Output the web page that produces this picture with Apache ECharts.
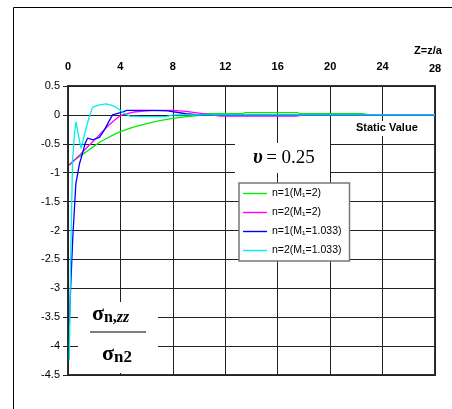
<!DOCTYPE html>
<html>
<head>
<meta charset="utf-8">
<script src="https://cdn.jsdelivr.net/npm/echarts@6/dist/echarts.min.js"></script>
<style>
  html, body { margin: 0; padding: 0; background: #fff; }
  #chart { width: 452px; height: 409px; }
</style>
</head>
<body>
<div id="chart"></div>
<script>
// 数据
const zTicks = [0, 4, 8, 12, 16, 20, 24, 28];
const seriesNames = ["n=1(M₁=2)", "n=2(M₁=2)", "n=1(M₁=1.033)", "n=2(M₁=1.033)"];

const greenZ = [0.1, 0.5, 1, 1.5, 2, 2.5, 3, 3.5, 4, 5, 6, 7, 8, 9, 10, 10.5, 13.3, 13.5, 17.5, 17.7, 22.5, 23, 28];
const greenV = [-0.86, -0.78, -0.7, -0.62, -0.54, -0.46, -0.4, -0.34, -0.29, -0.21, -0.15, -0.1, -0.06, -0.03, -0.01, 0.02, 0.02, 0.04, 0.04, 0.02, 0.02, 0, 0];

const magentaZ = [0.1, 0.5, 1, 1.5, 2, 2.5, 3, 3.5, 4, 5, 6, 7, 8, 9, 10, 11, 11.6, 17.4, 18, 28];
const magentaV = [-0.87, -0.78, -0.67, -0.55, -0.44, -0.32, -0.2, -0.1, -0.01, 0.05, 0.07, 0.08, 0.08, 0.06, 0.03, 0, -0.02, -0.02, 0, 0];

const blueZ = [0.1, 0.2, 0.37, 0.6, 0.88, 1.0, 1.3, 1.5, 1.9, 2.4, 2.8, 3.1, 3.4, 4, 4.5, 6.5, 7.6, 9, 10, 28];
const blueV = [-3.64, -3.0, -2.1, -1.19, -0.84, -0.75, -0.5, -0.4, -0.43, -0.39, -0.25, -0.12, 0, 0.04, 0.08, 0.08, 0.07, 0.02, 0, 0];

const cyanZ = [0.1, 0.2, 0.35, 0.5, 0.62, 0.75, 1.0, 1.3, 1.6, 1.87, 2.3, 2.9, 3.3, 3.7, 4.2, 4.7, 5.5, 7.5, 8, 28];
const cyanV = [-4.25, -2.5, -0.79, -0.3, -0.12, -0.3, -0.58, -0.3, -0.05, 0.13, 0.17, 0.19, 0.17, 0.13, 0.04, -0.02, -0.03, -0.03, 0, 0];

const colors = ["#00ee00", "#ff00ff", "#0000ff", "#00eeee"];

const zip = (xs, ys) => xs.map((x, i) => [x, ys[i]]);
const allData = [zip(greenZ, greenV), zip(magentaZ, magentaV), zip(blueZ, blueV), zip(cyanZ, cyanV)];

const chart = echarts.init(document.getElementById("chart"));
const sans = "Liberation Sans, Arial, sans-serif";
const serif = "Liberation Serif, Times New Roman, serif";

const option = {
  animation: false,
  grid: {
    left: 68,
    top: 86,
    width: 367,
    height: 289,
    show: true,
    borderColor: "#333",
    borderWidth: 2,
  },
  xAxis: {
    type: "value",
    position: "top",
    min: zTicks[0],
    max: zTicks[zTicks.length - 1],
    interval: 4,
    axisLine: { show: false },
    axisTick: { show: false },
    axisLabel: {
      color: "#000",
      fontFamily: sans,
      fontWeight: "bold",
      fontSize: 11,
      margin: 14,
      // 最后一个标签稍微往下
      formatter: (v) => (v === 28 ? "{low|28}" : String(v)),
      rich: {
        low: { fontFamily: sans, fontWeight: "bold", fontSize: 11, color: "#000", padding: [0, 0, -2, 0] },
      },
    },
    splitLine: { lineStyle: { color: "#222", width: 1 } },
  },
  yAxis: {
    type: "value",
    min: -4.5,
    max: 0.5,
    interval: 0.5,
    axisLine: { show: false },
    axisTick: { show: true, length: 5, lineStyle: { color: "#222" } },
    axisLabel: {
      color: "#000",
      fontFamily: sans,
      fontSize: 11,
      margin: 8,
    },
    splitLine: { lineStyle: { color: "#222", width: 1 } },
  },
  legend: {
    orient: "vertical",
    left: 239,
    top: 183,
    itemWidth: 24,
    itemHeight: 10,
    itemGap: 8,
    padding: [5, 8, 5, 4],
    backgroundColor: "#fff",
    borderColor: "#777",
    borderWidth: 1.5,
    textStyle: { fontFamily: sans, fontSize: 10.5, color: "#000" },
    data: seriesNames.map((n) => ({ name: n, icon: "path://M0,0 L24,0 L24,1.4 L0,1.4 Z" })),
  },
  graphic: [
    // outer chart frame
    { type: "polyline", shape: { points: [[13.5, 409], [13.5, 7.5], [452, 7.5]] }, style: { stroke: "#000", lineWidth: 1, fill: null }, z: 0 },
    // Z=z/a
    { type: "text", left: 414, top: 45, style: { text: "Z=z/a", font: "bold 11px " + sans, fill: "#000" }, z: 10 },
    // Static Value
    { type: "rect", shape: { x: 352, y: 121, width: 76, height: 15 }, style: { fill: "#fff" }, z: 9 },
    { type: "text", left: 356, top: 122, style: { text: "Static Value", font: "bold 11px " + sans, fill: "#000" }, z: 10 },
    // nu = 0.25
    { type: "rect", shape: { x: 235, y: 143, width: 95, height: 30 }, style: { fill: "#fff" }, z: 9 },
    {
      type: "text", left: 253, top: 148, z: 10,
      style: {
        text: "{a|υ} {b|= 0.25}",
        rich: {
          a: { font: "italic bold 20px " + serif, fill: "#000" },
          b: { font: "19px " + serif, fill: "#000" },
        },
      },
    },
    // sigma fraction
    { type: "rect", shape: { x: 78, y: 302, width: 80, height: 71 }, style: { fill: "#fff" }, z: 9 },
    {
      type: "text", left: 92, top: 303, z: 10,
      style: {
        text: "{s|σ}{n|n,}{z|zz}",
        rich: {
          s: { font: "bold 22px " + serif, fill: "#000" },
          n: { font: "bold 16px " + serif, fill: "#000", verticalAlign: "bottom", padding: [8, 0, 0, 0] },
          z: { font: "italic bold 16px " + serif, fill: "#000", verticalAlign: "bottom", padding: [8, 0, 0, 0] },
        },
      },
    },
    { type: "line", shape: { x1: 90, y1: 332, x2: 146, y2: 332 }, style: { stroke: "#555", lineWidth: 1.5 }, z: 10 },
    {
      type: "text", left: 102, top: 343, z: 10,
      style: {
        text: "{s|σ}{n|n2}",
        rich: {
          s: { font: "bold 22px " + serif, fill: "#000" },
          n: { font: "bold 17px " + serif, fill: "#000", verticalAlign: "bottom", padding: [8, 0, 0, 0] },
        },
      },
    },
  ],
  series: seriesNames.map((name, i) => ({
    name: name,
    type: "line",
    data: allData[i],
    showSymbol: false,
    symbol: "none",
    z: 3 + i,
    lineStyle: { color: colors[i], width: 1.3 },
    itemStyle: { color: colors[i] },
  })),
};
chart.setOption(option);
</script>
</body>
</html>
